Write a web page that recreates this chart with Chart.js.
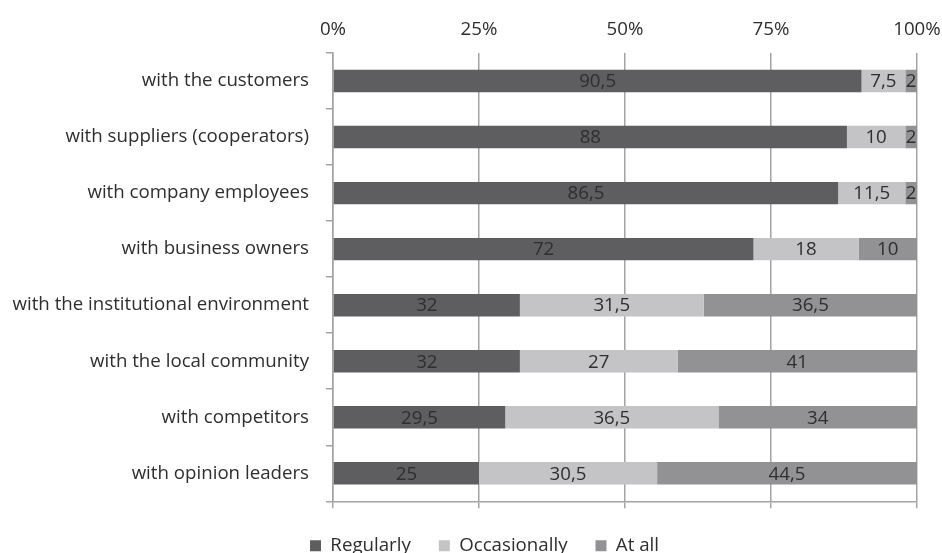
<!DOCTYPE html>
<html>
<head>
<meta charset="utf-8">
<script src="https://cdn.jsdelivr.net/npm/chart.js@4.4.1/dist/chart.umd.min.js"></script>
<style>
  html, body { margin: 0; padding: 0; background: #fff; }
  #wrap { width: 942px; height: 553px; }
</style>
</head>
<body>
<div id="wrap"><canvas id="myChart" width="942" height="553"></canvas></div>
<script>
// categories, top to bottom
const labels = [
  'with the customers',
  'with suppliers (cooperators)',
  'with company employees',
  'with business owners',
  'with the institutional environment',
  'with the local community',
  'with competitors',
  'with opinion leaders'
];

const regularly    = [90.5, 88, 86.5, 72, 32, 32, 29.5, 25];
const occasionally = [7.5, 10, 11.5, 18, 31.5, 27, 36.5, 30.5];
const atAll        = [2, 2, 2, 10, 36.5, 41, 34, 44.5];

const xTicks = [0, 25, 50, 75, 100];

const FONT = '"Open Sans", Lato, sans-serif';
const FSIZE = 18.7;

// values written inside the bars, with a comma as decimal mark
const barLabels = {
  id: 'barLabels',
  afterLayout(chart) {
    // legend sits a bit right of the canvas centre
    chart.legend.left += 26;
    chart.legend.right += 26;
  },
  afterDatasetsDraw(chart) {
    const ctx = chart.ctx;
    ctx.save();
    ctx.font = FSIZE + 'px ' + FONT;
    ctx.fillStyle = '#2e2e2e';
    ctx.textAlign = 'center';
    ctx.textBaseline = 'middle';
    chart.data.datasets.forEach(function(ds, i) {
      const meta = chart.getDatasetMeta(i);
      meta.data.forEach(function(bar, j) {
        const v = ds.data[j];
        const txt = String(v).replace('.', ',');
        ctx.fillText(txt, (bar.x + bar.base) / 2, bar.y + 1);
      });
    });
    ctx.restore();
  }
};

function fixTicks(scale) {
  scale.ticks = xTicks.map(function(v) { return { value: v }; });
}

const data = {
  labels: labels,
  datasets: [
    { label: 'Regularly', data: regularly, backgroundColor: '#5e5e60' },
    { label: 'Occasionally', data: occasionally, backgroundColor: '#c4c4c6' },
    { label: 'At all', data: atAll, backgroundColor: '#929295' }
  ]
};

const config = {
  type: 'bar',
  data: data,
  plugins: [barLabels],
  options: {
    indexAxis: 'y',
    responsive: false,
    animation: false,
    layout: { padding: { left: 0, right: 25, top: 0, bottom: -12 } },
    datasets: {
      bar: { categoryPercentage: 1, barPercentage: 0.4, borderWidth: 0 }
    },
    plugins: {
      tooltip: { enabled: false },
      legend: {
        position: 'bottom',
        labels: {
          font: { family: FONT, size: FSIZE },
          color: '#2e2e2e',
          boxWidth: 11,
          boxHeight: 11,
          padding: 28
        }
      }
    },
    scales: {
      x: {
        position: 'top',
        stacked: true,
        min: 0,
        max: 100,
        afterBuildTicks: fixTicks,
        afterFit: function(scale) {
          scale.height = 53;
          scale.paddingLeft = 0;
          scale.paddingRight = 0;
        },
        ticks: {
          padding: 12,
          color: '#2e2e2e',
          font: { family: FONT, size: FSIZE },
          callback: function(v) { return v + '%'; }
        },
        grid: { color: '#a3a3a3', lineWidth: 1.5, drawTicks: false },
        border: { display: false }
      },
      x2: {
        position: 'bottom',
        min: 0,
        max: 100,
        afterBuildTicks: fixTicks,
        afterFit: function(scale) {
          scale.height = 7;
          scale.paddingLeft = 0;
          scale.paddingRight = 0;
        },
        ticks: { display: false },
        grid: { color: '#a3a3a3', lineWidth: 1.5, drawOnChartArea: false, tickLength: 7 },
        border: { display: true, color: '#a3a3a3', width: 1.5 }
      },
      y: {
        stacked: true,
        afterFit: function(scale) { scale.width = 333; },
        ticks: {
          padding: 17,
          color: '#2e2e2e',
          font: { family: FONT, size: FSIZE }
        },
        grid: { offset: true, color: '#a3a3a3', lineWidth: 1.5, drawOnChartArea: false, tickLength: 7 },
        border: { display: true, color: '#a3a3a3', width: 1.5 }
      }
    }
  }
};

const myChart = new Chart(document.getElementById('myChart'), config);
</script>
</body>
</html>
